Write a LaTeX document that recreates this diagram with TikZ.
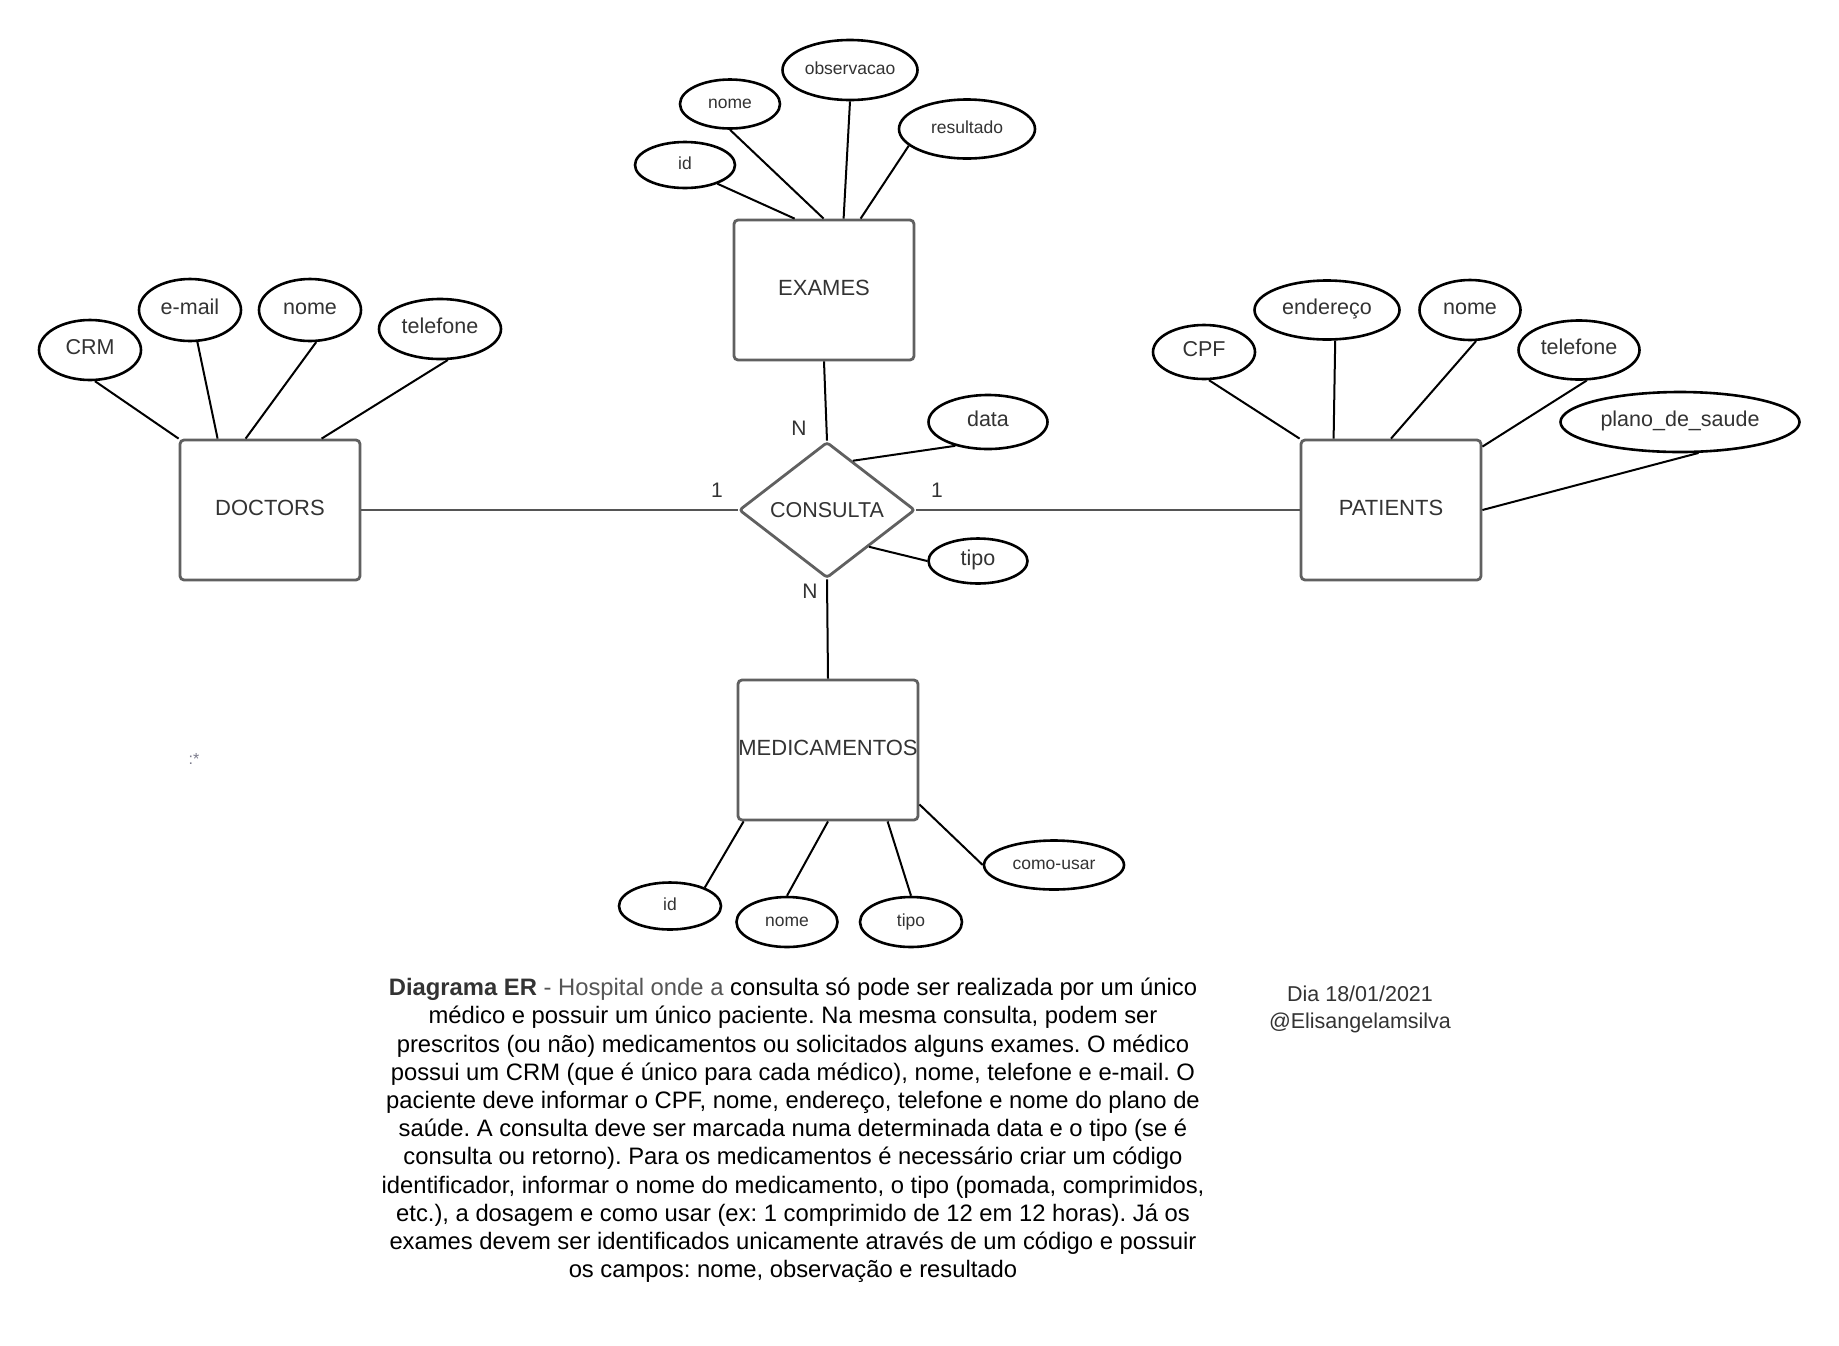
\documentclass[tikz,border=0pt]{standalone}
\usepackage{fontspec}
\setmainfont{Liberation Sans}
\usetikzlibrary{shapes.geometric,calc}
\definecolor{boxgray}{HTML}{606060}
\definecolor{txtgray}{HTML}{333333}
\definecolor{relgray}{HTML}{555555}
\definecolor{notegray}{HTML}{7A7A8A}

\begin{document}
\frenchspacing
\begin{tikzpicture}[x=1pt,y=-1pt,
  entity/.style={draw=boxgray,line width=2.8pt,rounded corners=4pt,
    minimum width=180pt,minimum height=140pt,inner sep=0pt,text=txtgray,
    font=\fontsize{22}{26}\selectfont,text height=15.8pt,text depth=5pt},
  relation/.style={diamond,draw=boxgray,line width=2.8pt,rounded corners=3pt,
    minimum width=176pt,minimum height=136pt,inner sep=0pt,text=txtgray,
    font=\fontsize{21.5}{26}\selectfont},
  attr/.style={ellipse,draw=black,line width=2.6pt,inner sep=0pt,text=txtgray},
  big/.style={font=\fontsize{21.5}{26}\selectfont,text height=15.5pt,text depth=6pt},
  small/.style={font=\fontsize{17.5}{21}\selectfont,text height=12.7pt,text depth=3.7pt},
  link/.style={line width=2pt,black},
  rel/.style={line width=2pt,relgray},
  card/.style={text=txtgray,font=\fontsize{21}{25}\selectfont}
]
\useasboundingbox[fill=white] (0,0) rectangle (1839,1345);

% entities and relationship
\node[entity] (doc) at (270,510) {DOCTORS};
\node[entity] (exa) at (824,290) {EXAMES};
\node[entity] (pat) at (1391,510) {PATIENTS};
\node[entity] (med) at (828,750) {MEDICAMENTOS};
\node[relation] (cons) at (827,510) {CONSULTA};

% relationship lines
\draw[rel] (doc.east) -- (cons.west);
\draw[rel] (cons.east) -- (pat.west);
\draw[link] (exa.south) -- (cons.north);
\draw[link] (cons.south) -- (med.north);

% cardinalities
\node[card] (nTop) at (799,428) {N};
\node[card] (oneL) at (717,490) {1};
\node[card] (oneR) at (937,490) {1};
\node[card] (nBot) at (810,591) {N};

% DOCTORS attributes
\node[attr,big,minimum width=102pt,minimum height=60pt] (crm) at (90,350) {CRM};
\node[attr,big,minimum width=102pt,minimum height=62pt] (email) at (190,310) {e-mail};
\node[attr,big,minimum width=102pt,minimum height=62pt] (dnome) at (310,310) {nome};
\node[attr,big,minimum width=122pt,minimum height=60pt] (dtel) at (440,329) {telefone};
\draw[link] (crm.-81) -- (doc.north west);
\draw[link] (email.-77) -- ([xshift=39pt]doc.north west);
\draw[link] (dnome.-79) -- ([xshift=67pt]doc.north west);
\draw[link] (dtel.-76) -- ([xshift=143pt]doc.north west);

% EXAMES attributes
\node[attr,small,minimum width=100pt,minimum height=46pt] (eid) at (685,165) {id};
\node[attr,small,minimum width=100pt,minimum height=49pt] (enome) at (730,104) {nome};
\node[attr,small,minimum width=135pt,minimum height=60pt] (eobs) at (850,70) {observacao};
\node[attr,small,minimum width=136pt,minimum height=59pt] (eres) at (967,129) {resultado};
\draw[link] (eid.-30) -- ([xshift=62pt]exa.north west);
\draw[link] (enome.south) -- ([xshift=91pt]exa.north west);
\draw[link] (eobs.south) -- ([xshift=111pt]exa.north west);
\draw[link] (eres.196) -- ([xshift=128pt]exa.north west);

% CONSULTA attributes
\node[attr,big,minimum width=119pt,minimum height=54pt] (data) at (988,422) {data};
\node[attr,big,minimum width=99pt,minimum height=45pt] (ctipo) at (978,561) {tipo};
\draw[link] (data.216) -- ($(cons.north)!0.29!(cons.east)$);
\draw[link] (ctipo.west) -- ($(cons.east)!0.53!(cons.south)$);

% MEDICAMENTOS attributes
\node[attr,small,minimum width=102pt,minimum height=47pt] (mid) at (670,906) {id};
\node[attr,small,minimum width=101pt,minimum height=50pt] (mnome) at (787,922) {nome};
\node[attr,small,minimum width=102pt,minimum height=50pt] (mtipo) at (911,922) {tipo};
\node[attr,small,minimum width=140pt,minimum height=49pt] (muso) at (1054,865) {como-usar};
\draw[link] (mid.28) -- ([xshift=7pt]med.south west);
\draw[link] (mnome.north) -- (med.south);
\draw[link] (mtipo.north) -- ([xshift=151pt]med.south west);
\draw[link] (muso.west) -- ([yshift=17pt]med.south east);

% PATIENTS attributes
\node[attr,big,minimum width=102pt,minimum height=54pt] (cpf) at (1204,352) {CPF};
\node[attr,big,minimum width=145pt,minimum height=59pt] (end) at (1327,310) {endereço};
\node[attr,big,minimum width=101pt,minimum height=60pt] (pnome) at (1470,310) {nome};
\node[attr,big,minimum width=121pt,minimum height=59pt] (ptel) at (1579,350) {telefone};
\node[attr,big,minimum width=239pt,minimum height=60pt] (plano) at (1680,422) {plano\_de\_saude};
\draw[link] (cpf.-80) -- (pat.north west);
\draw[link] (end.-75) -- ([xshift=34pt]pat.north west);
\draw[link] (pnome.-79) -- (pat.north);
\draw[link] (ptel.-76) -- ([yshift=-8pt]pat.north east);
\draw[link] (plano.-59) -- (pat.east);

% stray mark
\node[text=notegray,font=\fontsize{16}{18}\selectfont] (mark) at (194,759) {:*};

% description
\node[anchor=north,align=center,inner sep=0pt,font=\fontsize{23.8}{28.2}\selectfont] (desc) at (793,978)
{{\color{txtgray}\bfseries Diagrama ER} {\color{relgray}- Hospital onde a} consulta só pode ser realizada por um único\\
médico e possuir um único paciente. Na mesma consulta, podem ser\\
prescritos (ou não) medicamentos ou solicitados alguns exames. O médico\\
possui um CRM (que é único para cada médico), nome, telefone e e-mail. O\\
paciente deve informar o CPF, nome, endereço, telefone e nome do plano de\\
saúde. A consulta deve ser marcada numa determinada data e o tipo (se é\\
consulta ou retorno). Para os medicamentos é necessário criar um código\\
identificador, informar o nome do medicamento, o tipo (pomada, comprimidos,\\
etc.), a dosagem e como usar (ex: 1 comprimido de 12 em 12 horas). Já os\\
exames devem ser identificados unicamente através de um código e possuir\\
os campos: nome, observação e resultado};

% author note
\node[text=txtgray,align=center,font=\fontsize{21.5}{27}\selectfont] (author) at (1360,1009)
{Dia 18/01/2021\\@Elisangelamsilva};
\end{tikzpicture}
\end{document}
